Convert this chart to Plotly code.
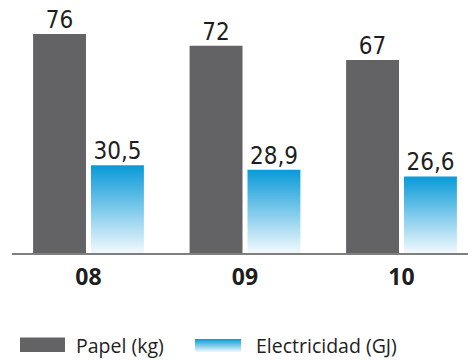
import plotly.graph_objects as go

# Data
years = ["08", "09", "10"]
papel = [76, 72, 67]
electricidad = [30.5, 28.9, 26.6]
series_names = ["Papel (kg)", "Electricidad (GJ)"]

# Styling
W, H = 468, 361
GRAY = "#636365"
BLUE = "#089ad8"
PALE = "#f2f9fd"
INK = "#1e1e1e"
AXIS = "#7f7f7f"
LABEL_FONT = "Liberation Sans Narrow, DejaVu Sans Condensed, Arial Narrow, sans-serif"
TEXT_FONT = "Open Sans, Noto Sans, sans-serif"

idx = list(range(len(years)))
bar_w = 0.338          # bar width in category units
off = bar_w / 2 + 0.016  # half the distance between the two bars of a group

x_papel = [i - off for i in idx]
x_elec = [i + off for i in idx]

fig = go.Figure()

# Paper consumption: solid gray bars
fig.add_trace(go.Bar(
    x=x_papel, y=papel, width=bar_w,
    marker=dict(color=GRAY, line=dict(width=0)),
    showlegend=False, hoverinfo="skip",
))

# Electricity: bars filled with a vertical blue-to-white gradient
for cx, v in zip(x_elec, electricidad):
    x0, x1 = cx - bar_w / 2, cx + bar_w / 2
    fig.add_trace(go.Scatter(
        x=[x0, x1, x1, x0, x0], y=[0, 0, v, v, 0],
        mode="lines", line=dict(width=0, color="rgba(0,0,0,0)"),
        fill="toself",
        fillgradient=dict(type="vertical", colorscale=[[0, PALE], [1, BLUE]],
                          start=0, stop=v),
        showlegend=False, hoverinfo="skip",
    ))

# Value labels above the bars
fig.add_trace(go.Scatter(
    x=x_papel, y=papel, mode="text", texttemplate="%{y:.0f}",
    textposition="top center",
    textfont=dict(family=LABEL_FONT, size=24, color=INK),
    showlegend=False, hoverinfo="skip", cliponaxis=False,
))
fig.add_trace(go.Scatter(
    x=x_elec, y=electricidad, mode="text", texttemplate="%{y:.1f}",
    textposition="top center",
    textfont=dict(family=LABEL_FONT, size=24, color=INK),
    showlegend=False, hoverinfo="skip", cliponaxis=False,
))

# Custom legend drawn on a full-figure pixel grid (x2/y2)
sw_gray = (20, 65, 337.5, 352)
sw_blue = (195, 241, 339, 352)
for (a, b, top, bot), grad in ((sw_gray, False), (sw_blue, True)):
    tr = dict(
        x=[a, b, b, a, a], y=[bot, bot, top, top, bot],
        xaxis="x2", yaxis="y2", mode="lines",
        line=dict(width=0, color="rgba(0,0,0,0)"), fill="toself",
        showlegend=False, hoverinfo="skip",
    )
    if grad:
        tr["fillgradient"] = dict(type="vertical", colorscale=[[0, PALE], [1, BLUE]],
                                  start=bot, stop=top)
    else:
        tr["fillcolor"] = GRAY
    fig.add_trace(go.Scatter(**tr))

annotations = [
    dict(x=74, y=345, text=series_names[0]),
    dict(x=254, y=345, text=series_names[1]),
]
for an in annotations:
    an.update(xref="x2", yref="y2", xanchor="left", yanchor="middle", showarrow=False,
              font=dict(family=TEXT_FONT, size=19.5, color=INK))

fig.update_layout(
    width=W, height=H,
    margin=dict(l=0, r=0, t=0, b=0),
    paper_bgcolor="white", plot_bgcolor="rgba(0,0,0,0)",
    separators=",.",
    annotations=annotations,
    xaxis=dict(
        domain=[12 / W, 1], range=[-0.4888, 2.4249],
        tickmode="array", tickvals=idx, ticktext=years,
        tickfont=dict(family=TEXT_FONT, size=23, color=INK, weight="bold"),
        ticklabelstandoff=3,
        ticks="", showgrid=False, zeroline=False,
        showline=True, linecolor=AXIS, linewidth=1.5,
        fixedrange=True,
    ),
    yaxis=dict(
        domain=[(H - 253) / H, 1], range=[0, 253 / 2.88],
        visible=False, fixedrange=True,
    ),
    xaxis2=dict(domain=[0, 1], range=[0, W], visible=False, anchor="y2", fixedrange=True),
    yaxis2=dict(domain=[0, 1], range=[H, 0], visible=False, anchor="x2", fixedrange=True),
)

fig.write_html("out.html")
